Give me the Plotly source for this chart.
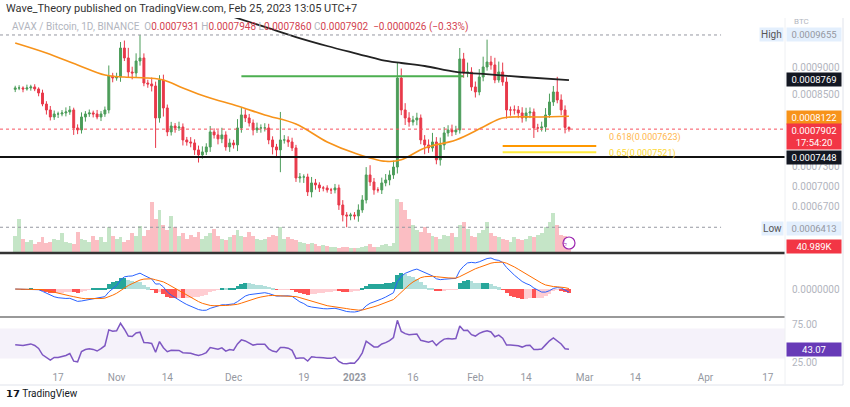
import numpy as np
import pandas as pd
import plotly.graph_objects as go

W, H = 850, 407
dates = pd.date_range(end="2023-02-25", periods=143, freq="D")

# closes in units of 1e-7 BTC
closes = [8626,8626,8607,8626,8644,8607,8534,8336,8231,8109,
          8161,8161,8179,8196,8231,7922,7888,8109,8161,8179,
          8161,8109,8161,8231,8848,8810,8829,9391,9194,8924,
          8905,9135,9194,8717,8699,8662,8092,8773,8266,7855,
          7955,7922,7938,7722,7689,7673,7560,7480,7528,7608,
          7855,7805,7740,7805,7608,7673,7641,7922,8144,8092,
          8006,7888,7922,7922,7922,7722,7608,7560,7722,7722,
          7689,7592,7122,7137,7137,6914,7047,7017,6972,6972,
          6943,6943,6972,6724,6583,6569,6583,6569,6653,6796,
          7168,7062,6943,6943,7047,7092,7168,7290,8810,8231,
          8092,8023,8058,8092,7722,7641,7592,7689,7402,7641,
          7838,7888,7855,7888,9174,8905,8924,8644,8552,8829,
          9019,9115,9058,8773,8924,8736,8231,8231,8231,8179,
          8092,8179,8196,7922,7922,7938,8144,8372,8552,8408,
          8231,7931,7902]
first_open = 8600
upper = [40,50,30,60,40,50,30,60,50,70, 60,40,50,80,70,40,60,80,50,60,
         40,70,50,60,200,60,80,120,150,200, 100,150,461,90,60,120,80,90,100,60,
         70,50,90,60,50,80,60,70,90,60, 100,60,80,120,60,70,50,150,120,100,
         70,60,90,60,80,70,60,50,474,80, 60,70,50,60,40,50,90,60,40,30,
         40,30,60,50,70,40,30,40,80,70, 120,150,60,40,80,90,70,100,290,180,
         120,100,70,90,60,80,90,150,80,120, 100,80,90,70,217,120,180,90,100,150,
         200,445,120,140,200,180,90,60,80,70, 100,90,80,60,70,90,120,150,110,280,
         100,80,17]
lower = [50,40,60,30,50,40,60,40,80,60, 50,70,40,60,50,117,70,60,80,50,
         60,40,70,50,60,80,50,90,60,100, 120,80,90,60,70,100,500,80,150,70,
         60,80,50,90,60,70,80,120,60,50, 80,60,90,70,60,80,60,100,80,70,
         60,90,50,80,60,70,120,100,350,60, 80,50,60,70,90,60,80,70,60,50,
         40,60,50,70,90,156,60,50,80,40, 50,60,70,40,60,50,80,60,100,90,
         120,80,60,90,70,150,80,60,70,90, 80,60,70,50,60,90,80,70,100,60,
         80,70,90,60,50,70,150,100,80,90, 80,60,90,167,70,60,80,50,70,60,
         90,100,42]
volume_k = [60,120,50,40,45,30,40,55,35,40, 50,45,70,40,35,30,75,50,45,40,
            60,45,55,40,90,60,50,55,40,45, 70,60,95,60,80,180,120,150,100,80,
            130,90,60,70,50,65,55,75,50,60, 70,85,60,50,45,55,65,80,60,55,
            75,60,50,45,50,55,65,60,90,50, 55,50,45,40,35,30,35,30,25,28,
            25,22,20,18,22,20,18,17,18,20, 25,30,22,20,28,30,25,35,190,180,
            150,120,100,80,75,90,70,60,55,50, 65,60,70,55,100,110,85,60,55,70,
            80,110,70,60,55,50,45,40,55,50, 45,50,60,55,65,70,90,110,140,100,
            65,60,40.989]
ema50_idx = [0,8,16,23,28,34,38,43,49,57,64,72,80,87,95,99,105,113,120,125,135,142]
ema50_val = [9491,9291,9058,8867,8829,8810,8773,8626,8464,8300,8144,7989,7689,7511,7379,7402,7592,7722,7938,8092,8109,8122]
sma200_idx = [56,64,72,80,88,94,99,105,113,120,130,142]
sma200_val = [10032,9821,9612,9431,9271,9154,9096,9038,8924,8886,8829,8769]

S = 1e-7
c = np.array(closes, float) * S
o = np.concatenate([[first_open * S], c[:-1]])
o[-1] = 7931 * S
hi = np.maximum(o, c) + np.array(upper) * S
lo = np.minimum(o, c) - np.array(lower) * S
up = c >= o

GREEN, RED = "#4c9d5a", "#e8394a"
xd = lambda px: px / W
yd = lambda py: 1 - py / H

fig = go.Figure()
fig.add_trace(go.Bar(x=dates, y=volume_k, marker_color=["rgba(76,175,80,0.32)" if u else "rgba(242,54,69,0.32)" for u in up],
                     marker_line_width=0, xaxis="x", yaxis="y", hoverinfo="skip"))
fig.add_trace(go.Candlestick(x=dates, open=o, high=hi, low=lo, close=c, xaxis="x", yaxis="y2",
                             increasing=dict(line=dict(color=GREEN, width=1), fillcolor=GREEN),
                             decreasing=dict(line=dict(color=RED, width=1), fillcolor=RED),
                             whiskerwidth=0, showlegend=False))
fig.add_trace(go.Scatter(x=dates[ema50_idx], y=np.array(ema50_val) * S, mode="lines", line=dict(color="#f7931a", width=1.6, shape="spline"),
                         xaxis="x", yaxis="y2"))
fig.add_trace(go.Scatter(x=dates[sma200_idx], y=np.array(sma200_val) * S, mode="lines", line=dict(color="#222", width=1.8, shape="spline"),
                         xaxis="x", yaxis="y2"))

cs = pd.Series(c)
macd = cs.ewm(span=12, adjust=False).mean() - cs.ewm(span=26, adjust=False).mean()
sig = macd.ewm(span=9, adjust=False).mean()
hist = macd - sig
hcol = []
for i, h in enumerate(hist):
    prev = hist[i - 1] if i else h
    if h >= 0:
        hcol.append("#26a69a" if h >= prev else "#b2dfdb")
    else:
        hcol.append("#ffcdd2" if h >= prev else "#ff5252")
fig.add_trace(go.Bar(x=dates, y=hist, marker_color=hcol, marker_line_width=0, xaxis="x2", yaxis="y3"))
fig.add_trace(go.Scatter(x=dates, y=macd, mode="lines", line=dict(color="#2962ff", width=1), xaxis="x2", yaxis="y3"))
fig.add_trace(go.Scatter(x=dates, y=sig, mode="lines", line=dict(color="#ff6d00", width=1), xaxis="x2", yaxis="y3"))

ag, al = 40e-7, 45e-7
rsi = []
for i in range(len(c)):
    dlt = c[i] - (c[i - 1] if i else first_open * S)
    ag = (ag * 13 + max(dlt, 0)) / 14
    al = (al * 13 + max(-dlt, 0)) / 14
    rsi.append(100 - 100 / (1 + ag / al))
fig.add_trace(go.Scatter(x=dates, y=rsi, mode="lines", line=dict(color="#7e57c2", width=1.5), xaxis="x3", yaxis="y4"))

xr = [pd.Timestamp("2023-02-25") - pd.Timedelta(days=145.9), pd.Timestamp("2023-02-25") + pd.Timedelta(days=55.4)]
dom_x = [0, 785 / W]
tick_dates = ["2022-10-17","2022-11-01","2022-11-14","2022-12-01","2022-12-19","2023-01-01","2023-01-16","2023-02-01","2023-02-14","2023-03-01","2023-03-14","2023-04-01","2023-04-17"]
tick_text = ["17","Nov","14","Dec","19","<b>2023</b>","16","Feb","14","Mar","14","Apr","17"]
ax_common = dict(range=xr, domain=dom_x, showgrid=False, zeroline=False, showline=False)
plog = lambda p: np.log10(p)
tf = dict(size=10, color="#b2b5be", family="Roboto")
fig.update_layout(
    width=W, height=H, margin=dict(l=0, r=0, t=0, b=0), paper_bgcolor="white", plot_bgcolor="white",
    showlegend=False, bargap=0,
    xaxis=dict(**ax_common, showticklabels=False, rangeslider=dict(visible=False)),
    xaxis2=dict(**ax_common, showticklabels=False, anchor="y3"),
    xaxis3=dict(**ax_common, anchor="y4", tickvals=pd.to_datetime(tick_dates), ticktext=tick_text, ticks="",
                tickfont=dict(size=10, color="#9598a1", family="Roboto")),
    yaxis=dict(domain=[yd(253), yd(18)], range=[0, 827], visible=False),
    yaxis2=dict(domain=[yd(253), yd(18)], overlaying="y", type="log", range=[plog(6071e-7), plog(10010e-7)], side="right",
                tickvals=[0.0009, 0.00085, 0.00073, 0.0007, 0.00067], tickformat=".7f",
                tickfont=tf, showgrid=False, zeroline=False, anchor="x", ticks="", ticklabelstandoff=6),
    yaxis3=dict(domain=[yd(315), yd(255)], side="right", anchor="x2", tickvals=[0], tickformat=".7f",
                tickfont=tf, showgrid=False, zeroline=False, ticklabelstandoff=6),
    yaxis4=dict(domain=[yd(370), yd(319)], side="right", anchor="x3", range=[14.7, 82.7], tickvals=[25, 75], tickformat=".2f",
                tickfont=tf, showgrid=False, zeroline=False, ticklabelstandoff=6),
    font=dict(family="Roboto"),
)

shapes = []
def hline_px(y, x0=0, x1=785, color="#000", width=1, dash="solid"):
    shapes.append(dict(type="line", xref="paper", yref="paper", x0=xd(x0), x1=xd(x1), y0=yd(y), y1=yd(y),
                       line=dict(color=color, width=width, dash=dash)))
def hlevel(p, d0, d1, color, width=2, dash="solid"):
    shapes.append(dict(type="line", xref="x", yref="y2", x0=d0, x1=d1, y0=p, y1=p, line=dict(color=color, width=width, dash=dash)))
hlevel(7448e-7, xr[0], xr[1], "#111", 2)
hlevel(7902e-7, xr[0], xr[1], "#f7525f", 1, "dot")
hlevel(9655e-7, xr[0], pd.Timestamp("2023-04-05"), "#9598a1", 1, "dot")
hlevel(6413e-7, xr[0], pd.Timestamp("2023-04-05"), "#9598a1", 1, "dot")
hlevel(8845e-7, dates[58], dates[115], "#4caf50", 2)
hlevel(7623e-7, dates[125], pd.Timestamp("2023-03-04"), "#ff9800", 2)
hlevel(7521e-7, dates[125], pd.Timestamp("2023-03-04"), "#ffeb3b", 2)
hline_px(253, color="#333", width=2.5)
hline_px(317, color="#777", width=1.5)
shapes.append(dict(type="rect", xref="x3", yref="y4", x0=xr[0], x1=xr[1], y0=30, y1=70, fillcolor="rgba(126,87,194,0.08)", line_width=0, layer="below"))
shapes.append(dict(type="line", xref="paper", yref="paper", x0=xd(843), x1=xd(843), y0=yd(18), y1=yd(385), line=dict(color="#e0e3eb", width=1)))
shapes.append(dict(type="line", xref="paper", yref="paper", x0=0, x1=xd(843), y0=yd(385), y1=yd(385), line=dict(color="#e0e3eb", width=1)))
shapes.append(dict(type="line", xref="paper", yref="paper", x0=xd(785), x1=xd(785), y0=yd(18), y1=yd(385), line=dict(color="#eef0f3", width=1)))
shapes.append(dict(type="circle", xref="paper", yref="paper", x0=xd(563), x1=xd(575), y0=yd(249), y1=yd(237), line=dict(color="#9c27b0", width=1.2), fillcolor="white"))
fig.update_layout(shapes=shapes)

ann = []
def tag(y, text, bg, fg="white", anchor="middle"):
    ann.append(dict(xref="paper", yref="paper", x=xd(786), y=yd(y), xanchor="left", yanchor=anchor, text=text, showarrow=False,
                    bgcolor=bg, font=dict(size=9.5, color=fg, family="Roboto"), borderpad=1, width=52, align="center"))
tag(35, "0.0009655", "#e3effd", "#9598a1")
tag(80, "0.0008769", "#131722")
tag(117, "0.0008122", "#f7931a")
tag(123, "0.0007902<br>17:54:20", "#f23645", anchor="top")
tag(157, "0.0007448", "#131722")
tag(228, "0.0006413", "#e3effd", "#9598a1")
tag(246, "40.989K", "#f23645")
tag(349, "43.07", "#673ab7")
for y, t in [(35, "High"), (228, "Low")]:
    ann.append(dict(xref="paper", yref="paper", x=xd(784), y=yd(y), xanchor="right", yanchor="middle", text=t, showarrow=False,
                    bgcolor="#e3effd", font=dict(size=10, color="#555", family="Roboto"), borderpad=1))
ann.append(dict(xref="paper", yref="paper", x=xd(792), y=yd(28), xanchor="left", yanchor="bottom", text="BTC", showarrow=False,
                font=dict(size=8, color="#b2b5be")))
ann.append(dict(xref="paper", yref="paper", x=xd(4), y=yd(8), xanchor="left", yanchor="middle", showarrow=False,
                text="Wave_Theory published on TradingView.com, Feb 25, 2023 13:05 UTC+7", font=dict(size=11, color="#333", family="Roboto")))
red = "#d3424f"
ann.append(dict(xref="paper", yref="paper", x=xd(10), y=yd(27), xanchor="left", yanchor="middle", showarrow=False,
                text=(f"<span style='color:#b2b5be'>AVAX / Bitcoin, 1D, BINANCE  O</span><span style='color:{red}'>0.0007931</span>"
                      f"<span style='color:#b2b5be'> H</span><span style='color:{red}'>0.0007948</span>"
                      f"<span style='color:#b2b5be'> L</span><span style='color:{red}'>0.0007860</span>"
                      f"<span style='color:#b2b5be'> C</span><span style='color:{red}'>0.0007902  −0.0000026 (−0.33%)</span>"),
                font=dict(size=10, family="Roboto")))
ann.append(dict(xref="x", yref="y2", x=dates[115], y=8845e-7, xanchor="left", yanchor="bottom", showarrow=False,
                text="0.382(0.0008845)", font=dict(size=10, color="#4caf50")))
ann.append(dict(xref="paper", yref="paper", x=xd(607), y=yd(145), xanchor="left", yanchor="bottom", showarrow=False,
                text="0.618(0.0007623)", font=dict(size=9, color="#ffb74d")))
ann.append(dict(xref="paper", yref="paper", x=xd(607), y=yd(146), xanchor="left", yanchor="top", showarrow=False,
                text="0.65(0.0007521)", font=dict(size=9, color="#fdd835")))
ann.append(dict(xref="paper", yref="paper", x=xd(569), y=yd(243), showarrow=False, text="ϟ", font=dict(size=9, color="#9c27b0")))
ann.append(dict(xref="paper", yref="paper", x=xd(4), y=yd(393), xanchor="left", yanchor="middle", showarrow=False,
                text="<b>𝟭𝟳</b> TradingView", font=dict(size=10, color="#131722", family="Roboto")))
fig.update_layout(annotations=ann)
fig.write_html("out.html", config={"displayModeBar": False})
with open("out.html", encoding="utf-8") as f:
    html = f.read()
html = html.replace("<body>", "<body style=\"margin:0;overflow:hidden\">", 1)
with open("out.html", "w", encoding="utf-8") as f:
    f.write(html)
